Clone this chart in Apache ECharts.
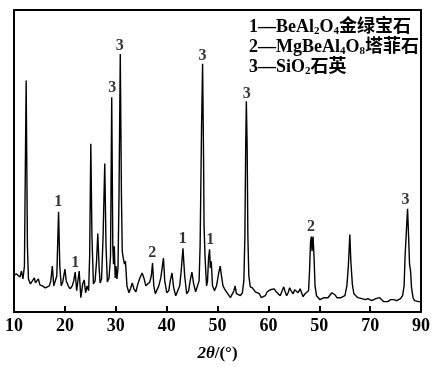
<!DOCTYPE html>
<html>
<head>
<meta charset="utf-8">
<script src="https://cdn.jsdelivr.net/npm/echarts@6/dist/echarts.min.js"></script>
<style>
  html, body { margin: 0; padding: 0; background: #fff; }
  #chart_xrd { width: 433px; height: 367px; }
</style>
</head>
<body>
<div id="chart_xrd"></div>
<script>
// 2θ (°)
var two_theta = [10.00, 10.49, 10.88, 11.17, 11.47, 11.76, 12.05, 12.39, 12.64, 12.84, 13.23, 13.62, 14.01, 14.21, 14.50, 14.79, 15.09, 15.57, 16.16, 16.55,
    16.94, 17.24, 17.53, 17.82, 18.12, 18.41, 18.76, 19.00, 19.29, 19.58, 20.01, 20.27, 20.66, 21.05, 21.44, 21.74, 22.03, 22.32, 22.81, 23.14,
    23.50, 23.79, 24.08, 24.38, 24.67, 24.87, 25.10, 25.32, 25.61, 25.94, 26.23, 26.47, 26.72, 26.92, 27.21, 27.51, 27.84, 28.09, 28.35, 28.68,
    28.97, 29.21, 29.42, 29.56, 29.72, 29.89, 30.05, 30.24, 30.44, 30.64, 30.89, 31.12, 31.28, 31.48, 31.71, 31.91, 32.20, 32.59, 32.89, 33.24,
    33.57, 33.96, 34.35, 34.74, 35.19, 35.53, 35.92, 36.31, 36.70, 36.99, 37.23, 37.48, 37.78, 38.07, 38.46, 38.85, 39.38, 39.63, 40.02, 40.42,
    40.71, 41.06, 41.39, 41.79, 42.18, 42.57, 42.86, 43.21, 43.55, 43.94, 44.33, 44.62, 44.97, 45.31, 45.70, 46.09, 46.38, 46.58, 46.77, 46.87,
    47.07, 47.26, 47.36, 47.56, 47.85, 48.04, 48.24, 48.44, 48.59, 48.77, 49.02, 49.41, 49.81, 50.20, 50.53, 50.78, 51.08, 51.37, 51.76, 52.15,
    52.54, 52.93, 53.23, 53.46, 53.72, 54.11, 54.50, 54.89, 55.18, 55.38, 55.54, 55.67, 55.83, 55.97, 56.16, 56.45, 56.85, 57.14, 57.43, 57.82,
    58.22, 58.61, 59.00, 59.39, 59.78, 60.17, 60.37, 60.76, 61.15, 61.54, 61.93, 62.32, 62.71, 63.01, 63.30, 63.59, 63.89, 64.18, 64.47, 64.87,
    65.16, 65.45, 65.84, 66.24, 66.53, 66.82, 67.21, 67.60, 67.90, 68.09, 68.29, 68.45, 68.58, 68.78, 68.97, 69.17, 69.46, 69.76, 70.15, 70.54,
    70.93, 71.32, 71.71, 72.10, 72.49, 72.83, 73.08, 73.47, 73.86, 74.26, 74.65, 75.04, 75.43, 75.72, 76.01, 76.21, 76.50, 76.80, 77.19, 77.58,
    77.97, 78.36, 78.75, 79.14, 79.54, 79.93, 80.32, 80.71, 81.10, 81.49, 81.88, 82.27, 82.67, 83.06, 83.45, 84.04, 84.62, 85.21, 85.60, 85.99,
    86.38, 86.68, 86.87, 87.17, 87.36, 87.56, 87.75, 87.95, 88.14, 88.44, 88.73, 89.12, 89.52, 90.00];

// cường độ (a.u.)
var intensity = [37.5, 38.5, 39.5, 35.5, 41.5, 33.5, 46.5, 234.5, 66.5, 33.5, 28.5, 30.5, 34.5, 29.5, 31.5, 33.5, 27.5, 26.5, 24.5, 23.5,
    26.5, 31.5, 46.5, 26.5, 25.5, 36.5, 101.5, 46.5, 26.5, 30.5, 43.5, 31.5, 26.5, 23.5, 26.5, 31.5, 40.5, 21.5, 41.5, 14.5,
    28.5, 32.5, 19.5, 26.5, 21.5, 56.5, 170.5, 76.5, 28.5, 31.5, 51.5, 79.5, 46.5, 29.5, 33.5, 76.5, 150.5, 66.5, 30.5, 34.5,
    56.5, 217.5, 66.5, 48.5, 66.5, 34.5, 46.5, 33.5, 44.5, 116.5, 261.5, 116.5, 61.5, 54.5, 48.5, 51.5, 26.5, 19.5, 23.5, 29.5,
    23.5, 20.5, 28.5, 34.5, 39.5, 34.5, 26.5, 24.5, 30.5, 36.5, 49.5, 26.5, 18.5, 19.5, 26.5, 34.5, 54.5, 31.5, 19.5, 21.5,
    31.5, 39.5, 24.5, 16.5, 18.5, 26.5, 41.5, 64.5, 36.5, 18.5, 21.5, 31.5, 40.5, 28.5, 20.5, 22.5, 31.5, 66.5, 146.5, 189.5,
    251.5, 156.5, 86.5, 54.5, 26.5, 31.5, 54.5, 63.5, 44.5, 51.5, 26.5, 21.5, 26.5, 38.5, 46.5, 36.5, 26.5, 23.5, 20.5, 18.5,
    14.5, 14.5, 21.5, 26.5, 18.5, 16.5, 16.5, 19.5, 31.5, 76.5, 166.5, 213.5, 166.5, 76.5, 36.5, 25.5, 24.5, 26.5, 20.5, 21.5,
    18.5, 14.5, 16.5, 16.5, 20.5, 19.5, 22.5, 21.5, 23.5, 20.5, 19.5, 16.5, 21.5, 25.5, 20.5, 16.5, 19.5, 24.5, 21.5, 18.5,
    22.5, 24.5, 19.5, 23.5, 22.5, 15.5, 18.5, 19.5, 21.5, 41.5, 71.5, 76.5, 61.5, 76.5, 56.5, 26.5, 16.5, 14.5, 12.5, 13.5,
    14.5, 13.5, 14.5, 16.5, 19.5, 20.5, 17.5, 14.5, 13.5, 14.5, 16.5, 16.5, 26.5, 46.5, 78.5, 51.5, 28.5, 18.5, 16.5, 14.5,
    14.5, 13.5, 12.5, 12.5, 13.5, 11.5, 11.5, 12.5, 13.5, 13.5, 14.5, 12.5, 10.5, 9.5, 10.5, 12.5, 12.5, 11.5, 11.5, 13.5,
    16.5, 26.5, 56.5, 86.5, 104.5, 76.5, 48.5, 41.5, 24.5, 14.5, 11.5, 10.5, 10.5, 10.5];

// nhãn pha trên các đỉnh
var peak_x = [18.70, 22.03, 29.30, 30.77, 37.15, 43.15, 47.07, 48.57, 55.73, 68.39, 86.97];
var peak_y = [111.5, 49.5, 227.5, 269.5, 59.5, 74.5, 259.5, 73.5, 221.5, 86.5, 113.5];
var peak_text = ['1', '1', '3', '3', '2', '1', '3', '1', '3', '2', '3'];

// nhãn trục x (giữ đúng như hình gốc: 60, 50, 70, 90)
var tick_values = [10, 20, 30, 40, 50, 60, 70, 80, 90];
var tick_labels = ['10', '20', '30', '40', '50', '60', '50', '70', '90'];

var chart_xrd = {
    echarts: echarts.init(document.getElementById('chart_xrd')),
    drawEcharts: function () {
        let serif = '"Liberation Serif", "Noto Sans CJK SC", serif';
        let line_data = two_theta.map(function (x, i) { return [x, intensity[i]]; });
        let peak_data = peak_x.map(function (x, i) { return [x, peak_y[i], peak_text[i]]; });

        let option = {
            animation: false,
            grid: {
                left: 14,
                right: 10,
                top: 10,
                bottom: 51,
                show: true,
                borderColor: '#000',
                borderWidth: 2
            },
            xAxis: {
                type: 'value',
                min: 10,
                max: 90,
                interval: 10,
                name: '{i|2θ}{n|/(°)}',
                nameLocation: 'middle',
                nameGap: 33,
                nameTextStyle: {
                    rich: {
                        i: { fontFamily: serif, fontSize: 17, fontWeight: 'bold', fontStyle: 'italic', color: '#000' },
                        n: { fontFamily: serif, fontSize: 17, fontWeight: 'bold', color: '#000' }
                    }
                },
                axisLine: { show: true, lineStyle: { color: '#000', width: 2 } },
                axisTick: { show: true, inside: true, length: 6, lineStyle: { color: '#000', width: 2 } },
                splitLine: { show: false },
                axisLabel: {
                    margin: 5,
                    fontFamily: serif,
                    fontSize: 18,
                    fontWeight: 'bold',
                    color: '#000',
                    formatter: function (v) {
                        let k = tick_values.indexOf(Math.round(Number(v)));
                        return k < 0 ? '' : tick_labels[k];
                    }
                }
            },
            yAxis: {
                type: 'value',
                min: 0,
                max: 306,
                axisLine: { show: true, lineStyle: { color: '#000', width: 2 } },
                axisTick: { show: false },
                axisLabel: { show: false },
                splitLine: { show: false }
            },
            graphic: {
                elements: [
                    {
                        type: 'text',
                        left: 249,
                        top: 18,
                        style: {
                            text: '{n|1—BeAl}{s|2}{n|O}{s|4}{n|金绿宝石}\n{n|2—MgBeAl}{s|4}{n|O}{s|8}{n|塔菲石}\n{n|3—SiO}{s|2}{n|石英}',
                            fill: '#000',
                            rich: {
                                n: { fontFamily: serif, fontSize: 18, fontWeight: 'bold', lineHeight: 20, fill: '#000' },
                                s: { fontFamily: serif, fontSize: 11, fontWeight: 'bold', lineHeight: 11, verticalAlign: 'bottom', fill: '#000' }
                            }
                        }
                    }
                ]
            },
            series: [
                {
                    name: 'XRD',
                    type: 'line',
                    data: line_data,
                    showSymbol: false,
                    color: '#000',
                    lineStyle: { color: '#000', width: 1.4 }
                },
                {
                    name: 'peaks',
                    type: 'scatter',
                    data: peak_data,
                    symbolSize: 0,
                    label: {
                        show: true,
                        position: 'inside',
                        fontFamily: serif,
                        fontSize: 16,
                        fontWeight: 'bold',
                        color: '#000',
                        formatter: function (p) { return p.value[2]; }
                    }
                }
            ]
        };

        this.echarts.setOption(option);
    }
}

chart_xrd.drawEcharts()
</script>
</body>
</html>
